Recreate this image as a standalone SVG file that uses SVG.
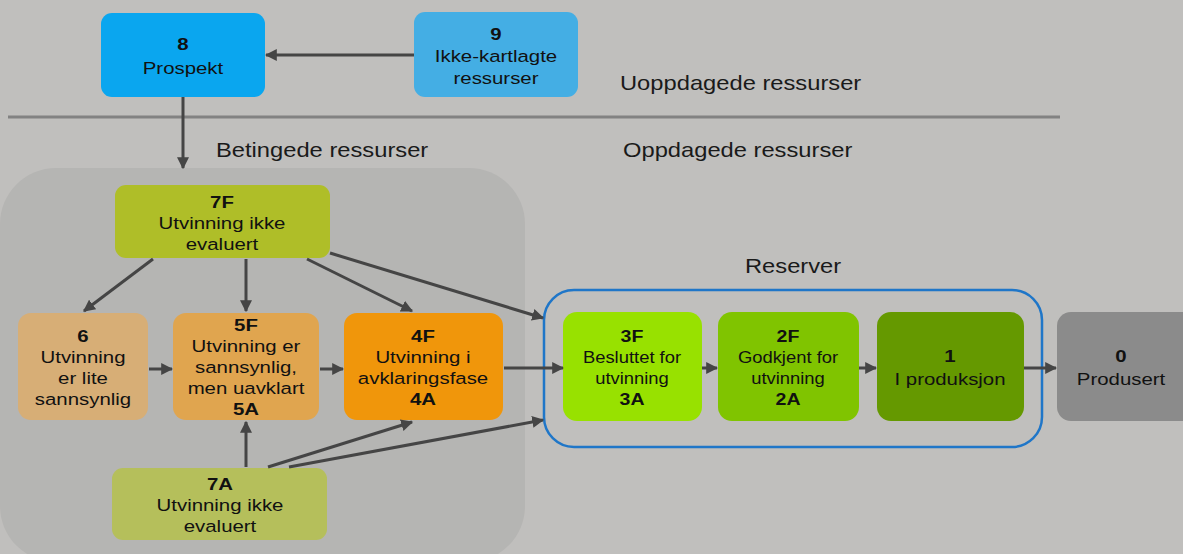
<svg xmlns="http://www.w3.org/2000/svg" width="1183" height="554" viewBox="0 0 1183 554">
<defs>
<marker id="ah" viewBox="0 0 10 10" refX="9" refY="5" markerWidth="4" markerHeight="4" orient="auto" markerUnits="strokeWidth">
<path d="M0,0 L10,5 L0,10 z" fill="#454545"/>
</marker>
<style>
text{font-family:"Liberation Sans",Arial,sans-serif;fill:#111;text-anchor:middle;font-size:17px}
.b{font-weight:bold}
.s{font-size:16px}
.h{font-size:21px;text-anchor:start;fill:#1a1a1a}
.c line{stroke:#454545;stroke-width:3;marker-end:url(#ah)}
</style>
</defs>
<rect width="1183" height="554" fill="#c0bfbd"/>
<rect id="betingede-area" x="0" y="168" width="525" height="394" rx="56" fill="#b5b5b3"/>
<line x1="8" y1="117" x2="1060" y2="117" stroke="#828282" stroke-width="3"/>
<g transform="translate(620 0) scale(1.13 1)"><text class="h" x="0" y="90">Uoppdagede ressurser</text></g>
<g transform="translate(623 0) scale(1.13 1)"><text class="h" x="0" y="157">Oppdagede ressurser</text></g>
<g transform="translate(216 0) scale(1.13 1)"><text class="h" x="0" y="157">Betingede ressurser</text></g>
<g transform="translate(745 0) scale(1.13 1)"><text class="h" x="0" y="273">Reserver</text></g>
<rect id="reserver" x="544" y="290" width="498" height="157" rx="30" fill="none" stroke="#1f76c8" stroke-width="2.5"/>

<g id="n8"><rect x="101" y="13" width="164" height="84" rx="11" fill="#0aa6ef"/><g transform="translate(183 0) scale(1.2 1)"><text class="b" y="50">8</text><text y="74">Prospekt</text></g></g>
<g id="n9"><rect x="414" y="12" width="164" height="85" rx="11" fill="#44aee4"/><g transform="translate(496 0) scale(1.2 1)"><text class="b" y="40">9</text><text y="62">Ikke-kartlagte</text><text y="84">ressurser</text></g></g>
<g id="n7F"><rect x="115" y="185" width="215" height="73" rx="11" fill="#afbe28"/><g transform="translate(222 0) scale(1.2 1)"><text class="b" y="208">7F</text><text y="229">Utvinning ikke</text><text y="250">evaluert</text></g></g>
<g id="n6"><rect x="18" y="313" width="130" height="107" rx="13" fill="#d7ae76"/><g transform="translate(83 0) scale(1.2 1)"><text class="b" y="342">6</text><text y="363">Utvinning</text><text y="384">er lite</text><text y="405">sannsynlig</text></g></g>
<g id="n5F"><rect x="173" y="313" width="146" height="107" rx="13" fill="#e0a54f"/><g transform="translate(246 0) scale(1.2 1)"><text class="b" y="331">5F</text><text y="352">Utvinning er</text><text y="373">sannsynlig,</text><text y="394">men uavklart</text><text class="b" y="415">5A</text></g></g>
<g id="n4F"><rect x="344" y="313" width="159" height="107" rx="13" fill="#f0960b"/><g transform="translate(423 0) scale(1.2 1)"><text class="b" y="342">4F</text><text y="363">Utvinning i</text><text y="384">avklaringsfase</text><text class="b" y="405">4A</text></g></g>
<g id="n7A"><rect x="112" y="468" width="215" height="72" rx="11" fill="#b5bf5b"/><g transform="translate(220 0) scale(1.2 1)"><text class="b" y="490">7A</text><text y="511">Utvinning ikke</text><text y="532">evaluert</text></g></g>
<g id="n3F"><rect x="563" y="312" width="139" height="109" rx="14" fill="#98e100"/><g transform="translate(632 0) scale(1.15 1)"><text class="b" y="342">3F</text><text class="s" y="363">Besluttet for</text><text class="s" y="384">utvinning</text><text class="b" y="405">3A</text></g></g>
<g id="n2F"><rect x="718" y="312" width="141" height="109" rx="14" fill="#80c400"/><g transform="translate(788 0) scale(1.15 1)"><text class="b" y="342">2F</text><text class="s" y="363">Godkjent for</text><text class="s" y="384">utvinning</text><text class="b" y="405">2A</text></g></g>
<g id="n1"><rect x="877" y="312" width="147" height="109" rx="14" fill="#659900"/><g transform="translate(950 0) scale(1.2 1)"><text class="b" y="362">1</text><text y="385">I produksjon</text></g></g>
<g id="n0"><rect x="1057" y="312" width="140" height="109" rx="14" fill="#8b8b8b"/><g transform="translate(1121 0) scale(1.2 1)"><text class="b" y="362">0</text><text y="385">Produsert</text></g></g>

<g id="connectors" class="c">
<line x1="414" y1="55" x2="266" y2="55"/>
<line x1="183" y1="97" x2="183" y2="168"/>
<line x1="153" y1="259" x2="84" y2="311"/>
<line x1="246" y1="259" x2="246" y2="311"/>
<line x1="307" y1="259" x2="412" y2="311"/>
<line x1="330" y1="253" x2="543" y2="318"/>
<line x1="149" y1="369" x2="172" y2="369"/>
<line x1="320" y1="369" x2="343" y2="369"/>
<line x1="504" y1="368" x2="563" y2="368"/>
<line x1="246" y1="467" x2="246" y2="422"/>
<line x1="268" y1="467" x2="412" y2="422"/>
<line x1="289" y1="467" x2="543" y2="420"/>
<line x1="702" y1="368" x2="717" y2="368"/>
<line x1="859" y1="368" x2="876" y2="368"/>
<line x1="1024" y1="368" x2="1056" y2="368"/>
</g>
</svg>
